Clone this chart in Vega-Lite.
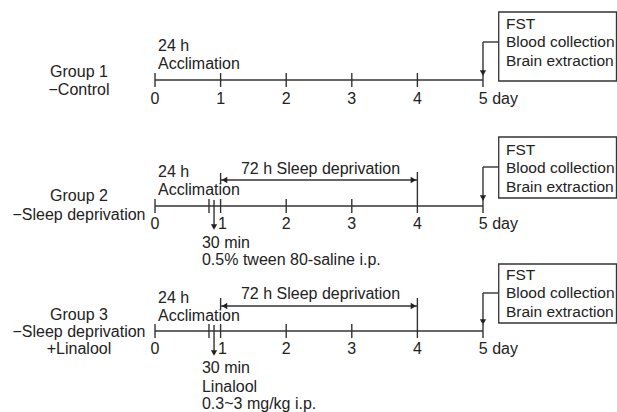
{
  "$schema": "https://vega.github.io/schema/vega-lite/v6.json",
  "width": 617,
  "height": 412,
  "autosize": {"type": "none"},
  "padding": 0,
  "background": "white",
  "config": {"view": {"stroke": null}},
  "datasets": {
    "lines": [
      {"x": 0, "x2": 5, "y": 80, "y2": 80},
      {"x": 0, "x2": 0, "y": 73, "y2": 87},
      {"x": 1, "x2": 1, "y": 73, "y2": 87},
      {"x": 2, "x2": 2, "y": 73, "y2": 87},
      {"x": 3, "x2": 3, "y": 73, "y2": 87},
      {"x": 4, "x2": 4, "y": 73, "y2": 87},
      {"x": 5, "x2": 5, "y": 73, "y2": 87},
      {"x": 5, "x2": 5.24, "y": 42, "y2": 42},
      {"x": 5, "x2": 5, "y": 42, "y2": 72},

      {"x": 0, "x2": 5, "y": 206, "y2": 206},
      {"x": 0, "x2": 0, "y": 199, "y2": 213},
      {"x": 0.823, "x2": 0.823, "y": 199, "y2": 213},
      {"x": 1, "x2": 1, "y": 199, "y2": 213},
      {"x": 2, "x2": 2, "y": 199, "y2": 213},
      {"x": 3, "x2": 3, "y": 199, "y2": 213},
      {"x": 4, "x2": 4, "y": 172, "y2": 213},
      {"x": 5, "x2": 5, "y": 199, "y2": 213},
      {"x": 1, "x2": 1, "y": 173, "y2": 184},
      {"x": 1, "x2": 4, "y": 180, "y2": 180},
      {"x": 0.9, "x2": 0.9, "y": 200, "y2": 226},
      {"x": 5, "x2": 5.24, "y": 167, "y2": 167},
      {"x": 5, "x2": 5, "y": 167, "y2": 196},

      {"x": 0, "x2": 5, "y": 331, "y2": 331},
      {"x": 0, "x2": 0, "y": 324, "y2": 338},
      {"x": 0.823, "x2": 0.823, "y": 324, "y2": 338},
      {"x": 1, "x2": 1, "y": 324, "y2": 338},
      {"x": 2, "x2": 2, "y": 324, "y2": 338},
      {"x": 3, "x2": 3, "y": 324, "y2": 338},
      {"x": 4, "x2": 4, "y": 298, "y2": 338},
      {"x": 5, "x2": 5, "y": 324, "y2": 338},
      {"x": 1, "x2": 1, "y": 298, "y2": 309},
      {"x": 1, "x2": 4, "y": 306, "y2": 306},
      {"x": 0.9, "x2": 0.9, "y": 325, "y2": 352},
      {"x": 5, "x2": 5.24, "y": 293, "y2": 293},
      {"x": 5, "x2": 5, "y": 293, "y2": 320}
    ],
    "heads": [
      {"x": 5, "y": 73, "dir": "triangle-down"},
      {"x": 5, "y": 198, "dir": "triangle-down"},
      {"x": 5, "y": 322, "dir": "triangle-down"},
      {"x": 0.9, "y": 227, "dir": "triangle-down"},
      {"x": 0.9, "y": 353, "dir": "triangle-down"},
      {"x": 1.06, "y": 180, "dir": "triangle-left"},
      {"x": 3.94, "y": 180, "dir": "triangle-right"},
      {"x": 1.06, "y": 306, "dir": "triangle-left"},
      {"x": 3.94, "y": 306, "dir": "triangle-right"}
    ],
    "boxes": [
      {"x": 5.24, "x2": 7.035, "y": 12, "y2": 81},
      {"x": 5.24, "x2": 7.035, "y": 137, "y2": 198},
      {"x": 5.24, "x2": 7.035, "y": 264, "y2": 323}
    ],
    "boxText": [
      {"x": 5.35, "y": 24, "t": "FST"},
      {"x": 5.35, "y": 42, "t": "Blood collection"},
      {"x": 5.35, "y": 61, "t": "Brain extraction"},
      {"x": 5.35, "y": 150, "t": "FST"},
      {"x": 5.35, "y": 168, "t": "Blood collection"},
      {"x": 5.35, "y": 187, "t": "Brain extraction"},
      {"x": 5.35, "y": 275, "t": "FST"},
      {"x": 5.35, "y": 293, "t": "Blood collection"},
      {"x": 5.35, "y": 312, "t": "Brain extraction"}
    ],
    "leftText": [
      {"x": 0.046, "y": 46, "t": "24 h"},
      {"x": 0.046, "y": 64, "t": "Acclimation"},
      {"x": 4.937, "y": 99, "t": "5 day"},

      {"x": 0.046, "y": 172, "t": "24 h"},
      {"x": 0.046, "y": 190, "t": "Acclimation"},
      {"x": 1.31, "y": 169, "t": "72 h Sleep deprivation"},
      {"x": 4.937, "y": 224, "t": "5 day"},
      {"x": 0.716, "y": 243, "t": "30 min"},
      {"x": 0.716, "y": 260, "t": "0.5% tween 80-saline i.p."},

      {"x": 0.046, "y": 298, "t": "24 h"},
      {"x": 0.046, "y": 316, "t": "Acclimation"},
      {"x": 1.31, "y": 294, "t": "72 h Sleep deprivation"},
      {"x": 4.937, "y": 349, "t": "5 day"},
      {"x": 0.716, "y": 368, "t": "30 min"},
      {"x": 0.716, "y": 387, "t": "Linalool"},
      {"x": 0.716, "y": 404, "t": "0.3~3 mg/kg i.p."}
    ],
    "centerText": [
      {"x": 0, "y": 99, "t": "0"},
      {"x": 1, "y": 99, "t": "1"},
      {"x": 2, "y": 99, "t": "2"},
      {"x": 3, "y": 99, "t": "3"},
      {"x": 4, "y": 99, "t": "4"},
      {"x": -1.159, "y": 72, "t": "Group 1"},
      {"x": -1.159, "y": 90, "t": "−Control"},

      {"x": 0, "y": 224, "t": "0"},
      {"x": 1.03, "y": 224, "t": "1"},
      {"x": 2, "y": 224, "t": "2"},
      {"x": 3, "y": 224, "t": "3"},
      {"x": 4, "y": 224, "t": "4"},
      {"x": -1.159, "y": 196, "t": "Group 2"},
      {"x": -1.159, "y": 215, "t": "−Sleep deprivation"},

      {"x": 0, "y": 349, "t": "0"},
      {"x": 1.03, "y": 349, "t": "1"},
      {"x": 2, "y": 349, "t": "2"},
      {"x": 3, "y": 349, "t": "3"},
      {"x": 4, "y": 349, "t": "4"},
      {"x": -1.159, "y": 315, "t": "Group 3"},
      {"x": -1.159, "y": 332, "t": "−Sleep deprivation"},
      {"x": -1.159, "y": 349, "t": "+Linalool"}
    ]
  },
  "layer": [
    {
      "data": {"name": "boxes"},
      "mark": {"type": "rect", "fill": "white", "stroke": "#333333", "strokeWidth": 1.3},
      "encoding": {
        "x": {"field": "x", "type": "quantitative", "scale": {"domain": [-2.363, 7.043], "nice": false, "zero": false}, "axis": null},
        "x2": {"field": "x2"},
        "y": {"field": "y", "type": "quantitative", "scale": {"domain": [412, 0], "nice": false, "zero": false}, "axis": null},
        "y2": {"field": "y2"}
      }
    },
    {
      "data": {"name": "lines"},
      "mark": {"type": "rule", "stroke": "#333333", "strokeWidth": 1.4},
      "encoding": {
        "x": {"field": "x", "type": "quantitative", "scale": {"domain": [-2.363, 7.043], "nice": false, "zero": false}, "axis": null},
        "x2": {"field": "x2"},
        "y": {"field": "y", "type": "quantitative", "scale": {"domain": [412, 0], "nice": false, "zero": false}, "axis": null},
        "y2": {"field": "y2"}
      }
    },
    {
      "data": {"name": "heads"},
      "mark": {"type": "point", "filled": true, "color": "#222222", "size": 40, "opacity": 1},
      "encoding": {
        "x": {"field": "x", "type": "quantitative", "scale": {"domain": [-2.363, 7.043], "nice": false, "zero": false}, "axis": null},
        "y": {"field": "y", "type": "quantitative", "scale": {"domain": [412, 0], "nice": false, "zero": false}, "axis": null},
        "shape": {"field": "dir", "type": "nominal", "scale": {"domain": ["triangle-down", "triangle-left", "triangle-right"], "range": ["triangle-down", "triangle-left", "triangle-right"]}, "legend": null}
      }
    },
    {
      "data": {"name": "boxText"},
      "mark": {"type": "text", "align": "left", "baseline": "middle", "font": "Liberation Sans", "fontSize": 15.5, "color": "#222222"},
      "encoding": {
        "x": {"field": "x", "type": "quantitative", "scale": {"domain": [-2.363, 7.043], "nice": false, "zero": false}, "axis": null},
        "y": {"field": "y", "type": "quantitative", "scale": {"domain": [412, 0], "nice": false, "zero": false}, "axis": null},
        "text": {"field": "t"}
      }
    },
    {
      "data": {"name": "leftText"},
      "mark": {"type": "text", "align": "left", "baseline": "middle", "font": "Liberation Sans", "fontSize": 16, "color": "#222222"},
      "encoding": {
        "x": {"field": "x", "type": "quantitative", "scale": {"domain": [-2.363, 7.043], "nice": false, "zero": false}, "axis": null},
        "y": {"field": "y", "type": "quantitative", "scale": {"domain": [412, 0], "nice": false, "zero": false}, "axis": null},
        "text": {"field": "t"}
      }
    },
    {
      "data": {"name": "centerText"},
      "mark": {"type": "text", "align": "center", "baseline": "middle", "font": "Liberation Sans", "fontSize": 16, "color": "#222222"},
      "encoding": {
        "x": {"field": "x", "type": "quantitative", "scale": {"domain": [-2.363, 7.043], "nice": false, "zero": false}, "axis": null},
        "y": {"field": "y", "type": "quantitative", "scale": {"domain": [412, 0], "nice": false, "zero": false}, "axis": null},
        "text": {"field": "t"}
      }
    }
  ]
}
